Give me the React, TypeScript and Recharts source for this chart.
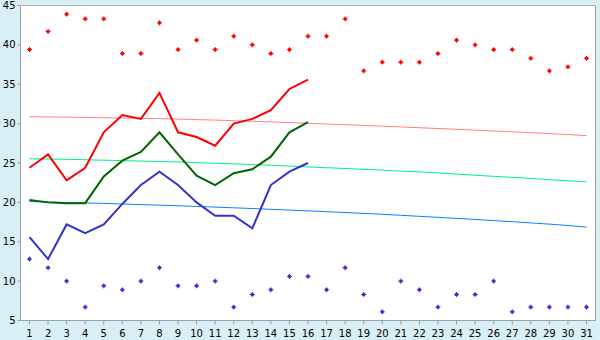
import React from "react";
import { ComposedChart, Line, XAxis, YAxis, CartesianGrid } from "recharts";

const days = ["1","2","3","4","5","6","7","8","9","10","11","12","13","14","15","16","17","18","19","20","21","22","23","24","25","26","27","28","29","30","31"];
const recordHigh = [39.4, 41.7, 43.9, 43.3, 43.3, 38.9, 38.9, 42.8, 39.4, 40.6, 39.4, 41.1, 40.0, 38.9, 39.4, 41.1, 41.1, 43.3, 36.7, 37.8, 37.8, 37.8, 38.9, 40.6, 40.0, 39.4, 39.4, 38.3, 36.7, 37.2, 38.3];
const recordLow = [12.8, 11.7, 10.0, 6.7, 9.4, 8.9, 10.0, 11.7, 9.4, 9.4, 10.0, 6.7, 8.3, 8.9, 10.6, 10.6, 8.9, 11.7, 8.3, 6.1, 10.0, 8.9, 6.7, 8.3, 8.3, 10.0, 6.1, 6.7, 6.7, 6.7, 6.7];
const maxT = [24.4, 26.1, 22.8, 24.4, 28.9, 31.1, 30.6, 33.9, 28.9, 28.3, 27.2, 30.0, 30.6, 31.7, 34.4, 35.6];
const meanT = [20.3, 20.0, 19.9, 19.9, 23.3, 25.3, 26.4, 28.9, 26.1, 23.4, 22.2, 23.7, 24.2, 25.8, 28.9, 30.2];
const minT = [15.6, 12.8, 17.2, 16.1, 17.2, 19.8, 22.2, 23.9, 22.2, 20.0, 18.3, 18.3, 16.7, 22.2, 23.9, 25.0];
const normalMax = [30.87, 30.85, 30.83, 30.79, 30.75, 30.71, 30.68, 30.63, 30.58, 30.51, 30.45, 30.37, 30.30, 30.22, 30.13, 30.04, 29.95, 29.86, 29.77, 29.68, 29.58, 29.48, 29.38, 29.28, 29.18, 29.06, 28.96, 28.85, 28.73, 28.61, 28.48];
const normalMean = [25.53, 25.51, 25.47, 25.41, 25.36, 25.30, 25.25, 25.19, 25.13, 25.05, 24.97, 24.90, 24.81, 24.71, 24.61, 24.50, 24.40, 24.30, 24.20, 24.09, 23.97, 23.87, 23.74, 23.59, 23.44, 23.31, 23.18, 23.03, 22.88, 22.74, 22.61];
const normalMin = [20.11, 20.05, 19.98, 19.93, 19.87, 19.79, 19.72, 19.64, 19.57, 19.49, 19.40, 19.31, 19.22, 19.12, 19.02, 18.92, 18.82, 18.71, 18.60, 18.49, 18.36, 18.23, 18.10, 17.97, 17.83, 17.69, 17.55, 17.39, 17.24, 17.06, 16.86];
const yTicks = [5, 10, 15, 20, 25, 30, 35, 40, 45];

const data = days.map((d, i) => ({
  day: d,
  recordHigh: recordHigh[i],
  recordLow: recordLow[i],
  maxT: maxT[i],
  meanT: meanT[i],
  minT: minT[i],
  normalMax: normalMax[i],
  normalMean: normalMean[i],
  normalMin: normalMin[i],
}));

const makeMarker = (color: string) => (props: any) => {
  const { cx, cy, index } = props;
  if (cx == null || cy == null || isNaN(cy)) return <g key={index} />;
  return (
    <g key={index} fill={color}>
      <rect x={cx - 1.5} y={cy - 1.5} width={3} height={3} />
      <rect x={cx - 0.5} y={cy - 2.5} width={1} height={5} />
      <rect x={cx - 2.5} y={cy - 0.5} width={5} height={1} />
    </g>
  );
};

const tickStyle = { fontFamily: "DejaVu Sans", fontSize: 10, fill: "#000" };

export default function App() {
  return (
    <div style={{ position: "absolute", left: 0, top: 0, width: 600, height: 340, background: "#d9eff6" }}>
      <ComposedChart
        width={600}
        height={340}
        data={data}
        margin={{ top: 5.5, right: 0, bottom: 0, left: 0.5 }}
      >
        <CartesianGrid vertical={false} stroke="#b0b0b0" fill="#ffffff" />
        <XAxis
          dataKey="day"
          height={19.5}
          padding={{ left: 9, right: 9 }}
          tick={tickStyle}
          tickLine={{ stroke: "#a0a0a0" }}
          axisLine={{ stroke: "#a0a0a0" }}
          tickSize={4}
          tickMargin={5}
          interval={0}
        />
        <YAxis
          yAxisId="l"
          domain={[5, 45]}
          ticks={yTicks}
          width={20}
          tick={tickStyle}
          tickLine={{ stroke: "#a0a0a0" }}
          axisLine={{ stroke: "#a0a0a0" }}
          tickSize={3}
          tickMargin={2}
          interval={0}
        />
        <YAxis
          yAxisId="r"
          orientation="right"
          domain={[5, 45]}
          width={4.5}
          tick={false}
          tickLine={false}
          axisLine={{ stroke: "#a0a0a0" }}
        />
        <Line yAxisId="l" dataKey="normalMax" stroke="#ff8080" strokeWidth={1} dot={false} isAnimationActive={false} />
        <Line yAxisId="l" dataKey="normalMean" stroke="#00f080" strokeWidth={1} dot={false} isAnimationActive={false} />
        <Line yAxisId="l" dataKey="normalMin" stroke="#0a80ff" strokeWidth={1} dot={false} isAnimationActive={false} />
        <Line yAxisId="l" dataKey="maxT" stroke="#ff0000" strokeWidth={2} dot={false} isAnimationActive={false} />
        <Line yAxisId="l" dataKey="meanT" stroke="#006600" strokeWidth={2} dot={false} isAnimationActive={false} />
        <Line yAxisId="l" dataKey="minT" stroke="#3333cc" strokeWidth={2} dot={false} isAnimationActive={false} />
        <Line yAxisId="l" dataKey="recordHigh" stroke="none" dot={makeMarker("#ff0000")} activeDot={false} isAnimationActive={false} />
        <Line yAxisId="l" dataKey="recordLow" stroke="none" dot={makeMarker("#3333cc")} activeDot={false} isAnimationActive={false} />
      </ComposedChart>
    </div>
  );
}
